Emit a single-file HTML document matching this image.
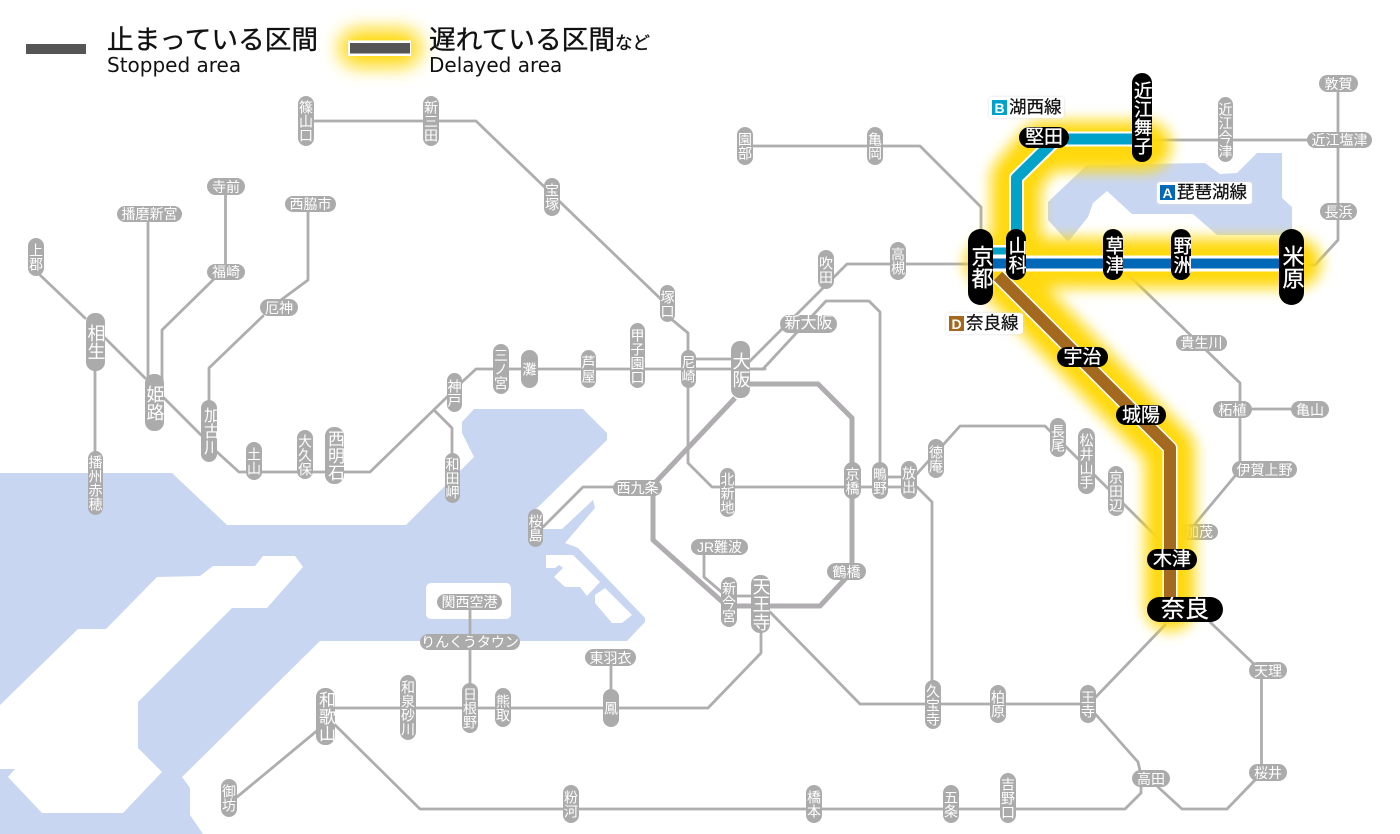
<!DOCTYPE html>
<html lang="ja"><head><meta charset="utf-8"><title>Map</title>
<style>
html,body{margin:0;padding:0;background:#fff}
#m{position:relative;width:1400px;height:834px;overflow:hidden;background:#fff;font-family:"Liberation Sans","Noto Sans CJK JP",sans-serif}
svg{position:absolute;left:0;top:0}
.s{position:absolute;display:flex;align-items:center;justify-content:center;background:#ababab;color:#fff;border-radius:9px;font-size:14px;line-height:1;white-space:nowrap;overflow:hidden}
.v{writing-mode:vertical-rl}
.k{background:#000;border-radius:11px;font-size:19px;-webkit-text-stroke:.3px #fff}
.t{position:absolute;white-space:nowrap;line-height:1;color:#111;-webkit-text-stroke:.35px #111}
.e{position:absolute;white-space:nowrap;line-height:1;color:#111;font-family:"DejaVu Sans",sans-serif;font-size:20px}
.l{position:absolute;background:#fff;border-radius:3px;box-shadow:0 0 3px #ddd;font-size:17.500px;line-height:1;white-space:nowrap;color:#111;-webkit-text-stroke:.25px #111}
.l b{position:absolute;display:flex;align-items:center;justify-content:center;color:#fff;-webkit-text-stroke:0;font:bold 14px "Liberation Sans",sans-serif;width:15px;height:15px;top:3px;left:3px}
.l span{position:absolute;left:20px;top:2px}
</style></head><body><div id="m">
<svg width="1400" height="834" viewBox="0 0 1400 834">
<g fill="#c8d6f2">
<path d="M0,473H172L227,525H406L474,457L462,433V422L474,409H583L607,433V440L535,510L543,529H562L593,500L595,508L565,543L578,548L645,618V622L627,641H320L182,777L190,788V815L203,834H0Z"/>
<path d="M1087,165L1205,163L1220,174L1237,173L1257,153H1282V198L1292,207V235H1217L1193,214H1132L1107,191L1093,203L1088,217L1068,242L1048,220V202Z"/>
</g>
<g fill="#fff">
<path d="M263,556H295L303,567L267,608H232L138,702V748L162,772L123,813H42L8,777L15,769H0V705L78,629H106L157,577L200,576L213,566H255Z"/>
<path d="M546,555H573L600,582L587,596L580,587H565L554,577L563,568L559,565L555,568H546Z"/>
<path d="M605,588L632,615L622,623H612L595,603V595Z"/>
<rect x="426" y="583" width="85" height="36" rx="5"/>
</g>
<g fill="none" stroke="#afadaf" stroke-width="2.800" stroke-linejoin="round" stroke-linecap="round">
<path d="M306,121H476L667,305M670,318L688,333V463L712,487H917L932,502V690"/>
<path d="M880,477H910M688,359H740"/>
<path d="M880,470V312L869,301H826L763,369H745"/>
<path d="M745,366L847,264H985"/>
<path d="M344,472H370L447,397L462,382L476,369H765"/>
<path d="M434,410L452,428V460"/>
<path d="M40,275L85,318M105,338L145,378M164,398L201,435M217,452L239,472H344"/>
<path d="M95,371V455M148,222V380M225.500,195V264M213,280L162,330V380M308,212V280L281,300M263,316L209,368V405"/>
<path d="M745,146H920L981,207V235"/>
<path d="M543,527L583,487H620"/>
<path d="M704,555V577L725,595M725,596H755"/>
<path d="M761,630V653L708,708H330"/>
<path d="M611,666V695M470,610V690"/>
<path d="M770,612L860,704H1090"/>
<path d="M905,487L960,426H1045L1165,545"/>
<path d="M1165,625L1090,703M1210,622L1256,666M1261.500,679V770"/>
<path d="M1255,780L1227,809H1182L1158,787"/>
<path d="M1090,708L1138,762L1141,775V793L1125,809H420L330,720L237,797"/>
<path d="M1115,262L1240,383V470L1190,530"/>
<path d="M1300,265H1315L1338,240V85"/>
<path d="M1145,140H1320"/>
<path d="M1250,409H1310"/>
</g>
<g fill="none" stroke="#afadaf" stroke-width="5" stroke-linejoin="round">
<path d="M745,384H818L852,418V570"/>
<path d="M846,578L820,606H727L653,540V485L735,398"/>
</g>
</svg>

<div class="s v" style="left:298px;top:96px;width:16px;height:50px">篠山口</div>
<div class="s v" style="left:423px;top:96px;width:16px;height:50px">新三田</div>
<div class="s v" style="left:544px;top:178px;width:16px;height:38px">宝塚</div>
<div class="s" style="left:207px;top:178px;width:38px;height:17px">寺前</div>
<div class="s" style="left:117px;top:206px;width:65px;height:16px">播磨新宮</div>
<div class="s" style="left:285px;top:196px;width:51px;height:16px">西脇市</div>
<div class="s v" style="left:28px;top:238px;width:16px;height:38px">上郡</div>
<div class="s" style="left:207px;top:264px;width:38px;height:16px">福崎</div>
<div class="s" style="left:260px;top:299px;width:38px;height:17px">厄神</div>
<div class="s v" style="left:86px;top:313px;width:19px;height:58px;font-size:18px">相生</div>
<div class="s v" style="left:145px;top:374px;width:19px;height:57px;font-size:18px">姫路</div>
<div class="s v" style="left:201px;top:400px;width:16px;height:62px;font-size:16px">加古川</div>
<div class="s v" style="left:246px;top:442px;width:16px;height:38px">土山</div>
<div class="s v" style="left:297px;top:430px;width:16px;height:49px">大久保</div>
<div class="s v" style="left:325px;top:427px;width:19px;height:57px;font-size:17px">西明石</div>
<div class="s v" style="left:447px;top:373px;width:15px;height:39px">神戸</div>
<div class="s v" style="left:493px;top:344px;width:16px;height:50px">三ノ宮</div>
<div class="s v" style="left:521px;top:350px;width:17px;height:38px">灘</div>
<div class="s v" style="left:581px;top:350px;width:15px;height:38px">芦屋</div>
<div class="s v" style="left:445px;top:453px;width:15px;height:50px">和田岬</div>
<div class="s v" style="left:88px;top:451px;width:15px;height:64px">播州赤穂</div>
<div class="s v" style="left:528px;top:509px;width:15px;height:38px">桜島</div>
<div class="s v" style="left:630px;top:323px;width:15px;height:65px">甲子園口</div>
<div class="s v" style="left:681px;top:350px;width:15px;height:38px">尼崎</div>
<div class="s v" style="left:660px;top:285px;width:15px;height:37px">塚口</div>
<div class="s v" style="left:731px;top:341px;width:19px;height:57px;font-size:18px">大阪</div>
<div class="s" style="left:780px;top:315px;width:57px;height:18px;font-size:16px">新大阪</div>
<div class="s v" style="left:720px;top:468px;width:15px;height:49px">北新地</div>
<div class="s" style="left:613px;top:480px;width:49px;height:16px">西九条</div>
<div class="s v" style="left:844px;top:462px;width:17px;height:37px">京橋</div>
<div class="s v" style="left:872px;top:462px;width:16px;height:37px">鴫野</div>
<div class="s v" style="left:901px;top:461px;width:16px;height:38px">放出</div>
<div class="s v" style="left:928px;top:439px;width:16px;height:39px">徳庵</div>
<div class="s" style="left:691px;top:539px;width:57px;height:16px">JR難波</div>
<div class="s v" style="left:721px;top:577px;width:16px;height:50px">新今宮</div>
<div class="s v" style="left:751px;top:575px;width:19px;height:58px;font-size:18px">天王寺</div>
<div class="s" style="left:827px;top:563px;width:39px;height:17px">鶴橋</div>
<div class="s" style="left:437px;top:594px;width:65px;height:16px">関西空港</div>
<div class="s" style="left:420px;top:634px;width:100px;height:16px">りんくうタウン</div>
<div class="s" style="left:585px;top:649px;width:51px;height:17px">東羽衣</div>
<div class="s v" style="left:400px;top:675px;width:16px;height:65px">和泉砂川</div>
<div class="s v" style="left:462px;top:683px;width:16px;height:50px">日根野</div>
<div class="s v" style="left:495px;top:688px;width:16px;height:39px">熊取</div>
<div class="s v" style="left:603px;top:689px;width:16px;height:38px">鳳</div>
<div class="s v" style="left:316px;top:688px;width:19px;height:57px;font-size:17px">和歌山</div>
<div class="s v" style="left:221px;top:779px;width:16px;height:38px">御坊</div>
<div class="s v" style="left:563px;top:785px;width:16px;height:38px">粉河</div>
<div class="s v" style="left:925px;top:680px;width:16px;height:49px">久宝寺</div>
<div class="s v" style="left:990px;top:685px;width:16px;height:38px">柏原</div>
<div class="s v" style="left:1080px;top:685px;width:16px;height:38px">王寺</div>
<div class="s" style="left:1132px;top:770px;width:38px;height:17px">高田</div>
<div class="s" style="left:1249px;top:662px;width:38px;height:17px">天理</div>
<div class="s" style="left:1249px;top:764px;width:38px;height:17px">桜井</div>
<div class="s v" style="left:806px;top:785px;width:16px;height:38px">橋本</div>
<div class="s v" style="left:943px;top:785px;width:16px;height:38px">五条</div>
<div class="s v" style="left:1000px;top:773px;width:16px;height:50px">吉野口</div>
<div class="s" style="left:1176px;top:335px;width:51px;height:16px">貴生川</div>
<div class="s" style="left:1213px;top:401px;width:39px;height:17px">柘植</div>
<div class="s" style="left:1291px;top:401px;width:38px;height:17px">亀山</div>
<div class="s" style="left:1232px;top:461px;width:65px;height:17px">伊賀上野</div>
<div class="s" style="left:1180px;top:524px;width:38px;height:16px">加茂</div>
<div class="s v" style="left:1050px;top:418px;width:16px;height:39px">長尾</div>
<div class="s v" style="left:1078px;top:428px;width:17px;height:66px">松井山手</div>
<div class="s v" style="left:1108px;top:466px;width:16px;height:50px">京田辺</div>
<div class="s" style="left:1319px;top:75px;width:39px;height:17px">敦賀</div>
<div class="s v" style="left:1218px;top:97px;width:15px;height:65px">近江今津</div>
<div class="s" style="left:1307px;top:132px;width:65px;height:16px">近江塩津</div>
<div class="s" style="left:1320px;top:203px;width:37px;height:17px">長浜</div>
<div class="s v" style="left:737px;top:127px;width:16px;height:38px">園部</div>
<div class="s v" style="left:867px;top:127px;width:16px;height:38px">亀岡</div>
<div class="s v" style="left:818px;top:250px;width:16px;height:39px">吹田</div>
<div class="s v" style="left:890px;top:242px;width:16px;height:38px">高槻</div>

<svg width="1400" height="834" viewBox="0 0 1400 834">
<defs><filter id="b" filterUnits="userSpaceOnUse" x="0" y="0" width="1400" height="834"><feGaussianBlur stdDeviation="7"/></filter>
<filter id="c" filterUnits="userSpaceOnUse" x="0" y="0" width="1400" height="834"><feGaussianBlur stdDeviation="9"/></filter></defs>
<g fill="none" stroke="#ffd90f" stroke-linecap="round" stroke-linejoin="round" filter="url(#b)" stroke-width="50">
<path d="M990,263H1296"/>
<path d="M1016,250V178L1043,146H1146"/>
<path d="M1000,275L1170,450V606"/>
</g>
<path d="M358,48H402" fill="none" stroke="#ffd90f" stroke-width="38" stroke-linecap="round" filter="url(#c)"/>
<rect x="26" y="44" width="60" height="10" fill="#555"/>
<rect x="348" y="40.500" width="63" height="15.500" fill="#fff"/>
<rect x="350" y="43" width="60" height="10.500" fill="#555"/>
<g fill="none" stroke-linejoin="round">
<path d="M1016.500,240V178L1050,145L1056,139H1140" stroke="#fff" stroke-width="15"/>
<path d="M990,250.500H1016" stroke="#fff" stroke-width="11"/>
<path d="M981,263.500H1291" stroke="#fff" stroke-width="16"/>
<path d="M998,276L1170,448V600" stroke="#fff" stroke-width="15"/>
<path d="M1016.500,240V178L1050,145L1056,139H1140" stroke="#00a2c9" stroke-width="11"/>
<path d="M990,251H1016" stroke="#00a2c9" stroke-width="7"/>
<path d="M981,263.500H1291" stroke="#0068b7" stroke-width="10"/>
<path d="M998,276L1170,448V600" stroke="#a3691e" stroke-width="12"/>
</g>
</svg>

<div class="t" style="left:107px;top:27px;font-size:26.700px">止まっている区間</div>
<div class="e" style="left:107px;top:55px">Stopped area</div>
<div class="t" style="left:429px;top:27px;font-size:26.700px">遅れている区間<span style="font-size:17.500px">など</span></div>
<div class="e" style="left:429px;top:55px">Delayed area</div>

<div class="s k v" style="left:1132px;top:73px;width:20px;height:89px;font-size:18.500px">近江舞子</div>
<div class="s k" style="left:1019px;top:127px;width:50px;height:21px">堅田</div>
<div class="s k v" style="left:1006px;top:229px;width:20px;height:51px">山科</div>
<div class="s k v" style="left:968px;top:229px;width:25px;height:76px;font-size:22px;border-radius:13px">京都</div>
<div class="s k v" style="left:1103px;top:229px;width:20px;height:51px">草津</div>
<div class="s k v" style="left:1171px;top:229px;width:20px;height:51px">野洲</div>
<div class="s k v" style="left:1279px;top:229px;width:25px;height:76px;font-size:22px;border-radius:13px">米原</div>
<div class="s k" style="left:1057px;top:347px;width:51px;height:20px">宇治</div>
<div class="s k" style="left:1116px;top:405px;width:50px;height:20px">城陽</div>
<div class="s k" style="left:1147px;top:549px;width:50px;height:21px">木津</div>
<div class="s k" style="left:1147px;top:597px;width:76px;height:25px;font-size:24px;border-radius:13px">奈良</div>

<div class="l" style="left:989px;top:97px;width:75px;height:21px"><b style="background:#00a2c9">B</b><span>湖西線</span></div>
<div class="l" style="left:1157px;top:182px;width:95px;height:22px"><b style="background:#0068b7">A</b><span>琵琶湖線</span></div>
<div class="l" style="left:946px;top:313px;width:77px;height:21px"><b style="background:#a3691e">D</b><span>奈良線</span></div>
</div></body></html>
